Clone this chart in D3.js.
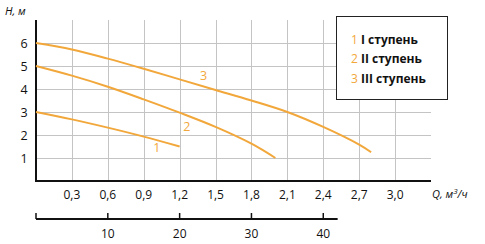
<!DOCTYPE html>
<html>
<head>
<meta charset="utf-8">
<script src="https://cdn.jsdelivr.net/npm/d3@7"></script>
<style>
  body { margin: 0; background: #fff; }
  svg { display: block; font-family: "Open Sans", sans-serif; }
</style>
</head>
<body>
<svg id="chart"></svg>
<script>
// flow in m3/h, head in m
var stage1 = [[0, 3], [0.3, 2.68], [0.6, 2.32], [0.9, 1.93], [1.2, 1.5]];
var stage2 = [[0, 5], [0.3, 4.58], [0.6, 4.1], [0.9, 3.55], [1.2, 2.97], [1.5, 2.35], [1.8, 1.62], [2.0, 1.0]];
var stage3 = [[0, 6], [0.3, 5.72], [0.6, 5.32], [0.9, 4.88], [1.2, 4.42], [1.5, 3.96], [1.8, 3.5], [2.1, 3.0], [2.4, 2.35], [2.7, 1.58], [2.8, 1.25]];

var curveNames = ["1", "2", "3"];
var curveLabelPos = [[1.01, 1.45], [1.26, 2.35], [1.4, 4.6]];
var legendNames = ["I ступень", "II ступень", "III ступень"];

var qTicks = [0.3, 0.6, 0.9, 1.2, 1.5, 1.8, 2.1, 2.4, 2.7, 3.0];
var hTicks = [1, 2, 3, 4, 5, 6];
var lminTicks = [10, 20, 30, 40];

var chartW = 485, chartH = 244;
var orange = "#f2a73b";
var gridColor = "#c4c4c4";

var svg = d3.select("#chart").attr("width", chartW).attr("height", chartH);

var xScale = d3.scaleLinear().domain([0, 3.3]).range([36, 431]);
var yScale = d3.scaleLinear().domain([0, 7]).range([181, 20]);
// litres per minute axis (1 m3/h = 16.667 l/min)
var x2Scale = d3.scaleLinear().domain([0, 42]).range([xScale(0), xScale(42 * 0.06)]);

// grid
qTicks.forEach((q) => {
  var px = Math.round(xScale(q)) + 0.5;
  svg.append("line")
    .attr("x1", px).attr("x2", px)
    .attr("y1", yScale(7)).attr("y2", yScale(0))
    .attr("stroke", gridColor).attr("stroke-width", 1);
});
hTicks.forEach((h) => {
  var py = Math.round(yScale(h)) + 0.5;
  svg.append("line")
    .attr("x1", xScale(0)).attr("x2", xScale(3.3))
    .attr("y1", py).attr("y2", py)
    .attr("stroke", gridColor).attr("stroke-width", 1);
});

// axes
svg.append("line")
  .attr("x1", xScale(0)).attr("x2", xScale(0))
  .attr("y1", yScale(7)).attr("y2", yScale(0) + 1)
  .attr("stroke", "#111").attr("stroke-width", 2);
svg.append("line")
  .attr("x1", xScale(0) - 1).attr("x2", xScale(3.3))
  .attr("y1", yScale(0)).attr("y2", yScale(0))
  .attr("stroke", "#111").attr("stroke-width", 2);

svg.append("g")
  .selectAll("text")
  .data(hTicks)
  .enter()
  .append("text")
  .attr("x", 24)
  .attr("y", (d) => yScale(d))
  .attr("text-anchor", "middle")
  .attr("dominant-baseline", "central")
  .attr("font-size", 12.5)
  .attr("fill", "#111")
  .text((d) => d);

svg.append("g")
  .selectAll("text")
  .data(qTicks)
  .enter()
  .append("text")
  .attr("x", (d) => xScale(d))
  .attr("y", 194)
  .attr("text-anchor", "middle")
  .attr("dominant-baseline", "central")
  .attr("font-size", 12)
  .attr("fill", "#111")
  .text((d) => d.toFixed(1).replace(".", ","));

svg.append("text")
  .attr("x", 5).attr("y", 15)
  .attr("font-size", 11).attr("font-style", "italic").attr("fill", "#111")
  .text("H, м");

var qLabel = svg.append("text")
  .attr("x", 432).attr("y", 198)
  .attr("font-size", 11).attr("font-style", "italic").attr("fill", "#111");
qLabel.append("tspan").text("Q, м");
qLabel.append("tspan").attr("font-size", 8).attr("dy", -4).text("3");
qLabel.append("tspan").attr("dy", 4).text("/ч");

// second axis, l/min
var axisY = 219;
svg.append("line")
  .attr("x1", x2Scale(0)).attr("x2", x2Scale(42))
  .attr("y1", axisY).attr("y2", axisY)
  .attr("stroke", "#111").attr("stroke-width", 2);
[0].concat(lminTicks).forEach((v) => {
  svg.append("line")
    .attr("x1", x2Scale(v)).attr("x2", x2Scale(v))
    .attr("y1", axisY - 6).attr("y2", axisY)
    .attr("stroke", "#111").attr("stroke-width", 1.5);
});
svg.append("g")
  .selectAll("text")
  .data(lminTicks)
  .enter()
  .append("text")
  .attr("x", (d) => x2Scale(d))
  .attr("y", 233)
  .attr("text-anchor", "middle")
  .attr("dominant-baseline", "central")
  .attr("font-size", 12)
  .attr("fill", "#111")
  .text((d) => d);

// curves
var curveLine = d3.line()
  .x((d) => xScale(d[0]))
  .y((d) => yScale(d[1]))
  .curve(d3.curveCatmullRom.alpha(0.5));

[stage1, stage2, stage3].forEach((pts) => {
  svg.append("path")
    .attr("d", curveLine(pts))
    .attr("fill", "none")
    .attr("stroke", orange)
    .attr("stroke-width", 2);
});

curveNames.forEach((n, i) => {
  svg.append("text")
    .attr("x", xScale(curveLabelPos[i][0]))
    .attr("y", yScale(curveLabelPos[i][1]))
    .attr("text-anchor", "middle")
    .attr("dominant-baseline", "central")
    .attr("font-size", 12.5)
    .attr("fill", orange)
    .text(n);
});

// legend
svg.append("rect")
  .attr("x", 336.5).attr("y", 16.5)
  .attr("width", 111).attr("height", 83)
  .attr("fill", "#fff")
  .attr("stroke", "#222").attr("stroke-width", 1);

legendNames.forEach((name, i) => {
  var t = svg.append("text")
    .attr("x", 351)
    .attr("y", 39 + i * 19.3)
    .attr("dominant-baseline", "central")
    .attr("font-size", 12);
  t.append("tspan").attr("fill", orange).text(curveNames[i] + " ");
  t.append("tspan").attr("fill", "#111").attr("font-weight", "bold").text(name);
});
</script>
</body>
</html>
